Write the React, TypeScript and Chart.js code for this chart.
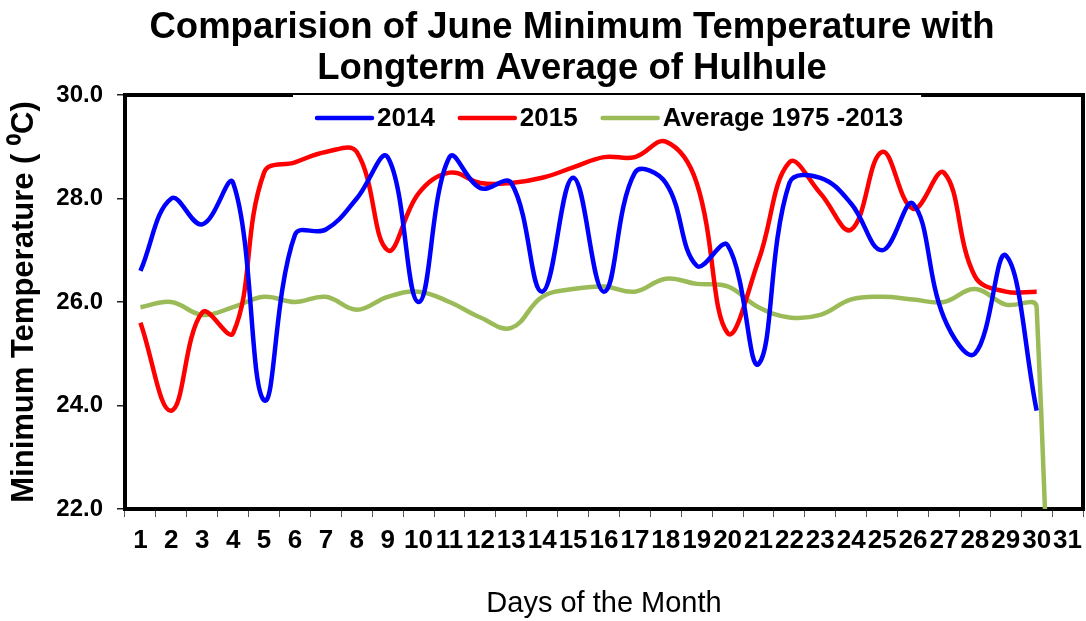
import React, { useEffect, useRef } from 'react';
import { Chart, registerables } from 'chart.js';

Chart.register(...registerables);

const days = ['1', '2', '3', '4', '5', '6', '7', '8', '9', '10', '11', '12', '13', '14', '15', '16', '17', '18', '19', '20', '21', '22', '23', '24', '25', '26', '27', '28', '29', '30', '31'];

const min2014 = [26.6, 28.0, 27.5, 28.3, 24.1, 27.3, 27.4, 28.0, 28.8, 26.0, 28.8, 28.2, 28.3, 26.2, 28.4, 26.2, 28.5, 28.3, 26.7, 27.1, 24.8, 28.3, 28.4, 27.9, 27.0, 27.9, 25.7, 25.0, 26.9, 23.9, null];

const min2015 = [25.6, 23.9, 25.8, 25.4, 28.5, 28.7, 28.9, 28.9, 27.0, 28.1, 28.5, 28.3, 28.3, 28.4, 28.6, 28.8, 28.8, 29.1, 28.3, 25.4, 26.8, 28.7, 28.1, 27.4, 28.9, 27.8, 28.5, 26.5, 26.2, 26.2, null];

const avg1975to2013 = [25.9, 26.0, 25.75, 25.9, 26.1, 26.0, 26.1, 25.85, 26.1, 26.2, 26.0, 25.7, 25.5, 26.1, 26.25, 26.3, 26.2, 26.45, 26.35, 26.3, 25.9, 25.7, 25.75, 26.05, 26.1, 26.05, 26.0, 26.25, 25.95, 25.9, 0];

const seriesNames = ['2014', '2015', 'Average 1975 -2013'];
const seriesColors = ['#0000FF', '#FF0000', '#9BBB59'];

const titleLines = ['Comparision of June Minimum Temperature with', 'Longterm Average of Hulhule'];

const yMin = 22;
const yMax = 30;
const yStep = 2;

const FONT = '"Liberation Sans", Arial, Helvetica, sans-serif';

const boxPlugin = {
  id: 'plotBox',
  beforeDatasetsDraw(chart: any) {
    const { ctx, chartArea } = chart;
    ctx.save();
    ctx.strokeStyle = '#000';
    ctx.lineWidth = 4;
    ctx.strokeRect(chartArea.left, chartArea.top, chartArea.right - chartArea.left, chartArea.bottom - chartArea.top);
    ctx.restore();
  },
};

const titlePlugin = {
  id: 'customTitle',
  afterDraw(chart: any) {
    const { ctx } = chart;
    ctx.save();
    ctx.font = `bold 36.5px ${FONT}`;
    ctx.fillStyle = '#000';
    ctx.textAlign = 'center';
    ctx.textBaseline = 'middle';
    titleLines.forEach((line, i) => {
      ctx.fillText(line, 572, 28 + i * 41);
    });
    ctx.restore();
  },
};

const legendPlugin = {
  id: 'insideLegend',
  afterDraw(chart: any) {
    const { ctx, chartArea } = chart;
    ctx.save();
    ctx.font = `bold 26px ${FONT}`;
    const lineLen = 55;
    const gap = 5;
    const itemGap = 25;
    const items = chart.data.datasets.map((ds: any) => ({
      label: ds.label,
      color: ds.borderColor,
      w: ctx.measureText(ds.label).width,
    }));
    const total = items.reduce((s: number, it: any) => s + lineLen + gap + it.w, 0) + itemGap * (items.length - 1);
    let x = 317;
    const y = chartArea.top + 23;
    ctx.fillStyle = '#fff';
    ctx.fillRect(x - 24, chartArea.top, total + 42, 36);
    ctx.textBaseline = 'middle';
    ctx.textAlign = 'left';
    for (const it of items) {
      ctx.strokeStyle = it.color;
      ctx.lineWidth = 4.5;
      ctx.lineCap = 'round';
      ctx.beginPath();
      ctx.moveTo(x, y);
      ctx.lineTo(x + lineLen, y);
      ctx.stroke();
      x += lineLen + gap;
      ctx.fillStyle = '#000';
      ctx.fillText(it.label, x, y + 1);
      x += it.w + itemGap;
    }
    ctx.restore();
  },
};

export default function App() {
  const canvasRef = useRef<HTMLCanvasElement | null>(null);

  useEffect(() => {
    document.body.style.margin = '0';
    const canvas = canvasRef.current;
    if (!canvas) return;
    const seriesData = [min2014, min2015, avg1975to2013];
    const chart = new Chart(canvas, {
      type: 'line',
      data: {
        labels: days,
        datasets: seriesData.map((d, i) => ({
          label: seriesNames[i],
          data: d,
          borderColor: seriesColors[i],
          backgroundColor: seriesColors[i],
          borderWidth: 4.5,
          pointRadius: 0,
          pointHoverRadius: 0,
          tension: 0.4,
          fill: false,
          spanGaps: false,
        })),
      },
      options: {
        animation: false,
        responsive: false,
        devicePixelRatio: 1,
        layout: { padding: { left: 0, right: 3, top: 95, bottom: 0 } },
        plugins: {
          legend: { display: false },
          tooltip: { enabled: false },
          title: { display: false },
        },
        scales: {
          x: {
            type: 'category',
            offset: true,
            grid: {
              display: true,
              drawOnChartArea: false,
              drawTicks: true,
              tickLength: 8,
              color: '#555',
              lineWidth: 1,
              offset: true,
            },
            border: { display: false },
            ticks: {
              autoSkip: false,
              maxRotation: 0,
              minRotation: 0,
              color: '#000',
              padding: 8,
              font: { family: FONT, size: 26, weight: 'bold' },
            },
            title: {
              display: true,
              text: 'Days of the Month',
              color: '#000',
              font: { family: FONT, size: 29, weight: 'normal' },
              padding: { top: 0, bottom: 0 },
            },
            afterFit(scale: any) {
              scale.height = 112;
              scale.paddingLeft = 0;
              scale.paddingRight = 0;
            },
          },
          y: {
            min: yMin,
            max: yMax,
            grid: {
              display: true,
              drawOnChartArea: false,
              drawTicks: true,
              tickLength: 8,
              color: '#222',
              lineWidth: 1.5,
            },
            border: { display: false },
            ticks: {
              stepSize: yStep,
              color: '#000',
              padding: 14,
              font: { family: FONT, size: 24, weight: 'bold' },
              callback: (v: any) => Number(v).toFixed(1),
            },
            title: {
              display: true,
              text: 'Minimum Temperature ( \u2070C)',
              color: '#000',
              font: { family: FONT, size: 31, weight: 'bold' },
              padding: { top: 6, bottom: 0 },
            },
            afterFit(scale: any) {
              scale.width = 125;
              scale.paddingTop = 0;
              scale.paddingBottom = 0;
            },
          },
        },
      },
      plugins: [boxPlugin, titlePlugin, legendPlugin],
    });
    return () => chart.destroy();
  }, []);

  return (
    <div style={{ width: 1086, height: 621 }}>
      <canvas ref={canvasRef} width={1086} height={621} style={{ display: 'block' }} />
    </div>
  );
}
